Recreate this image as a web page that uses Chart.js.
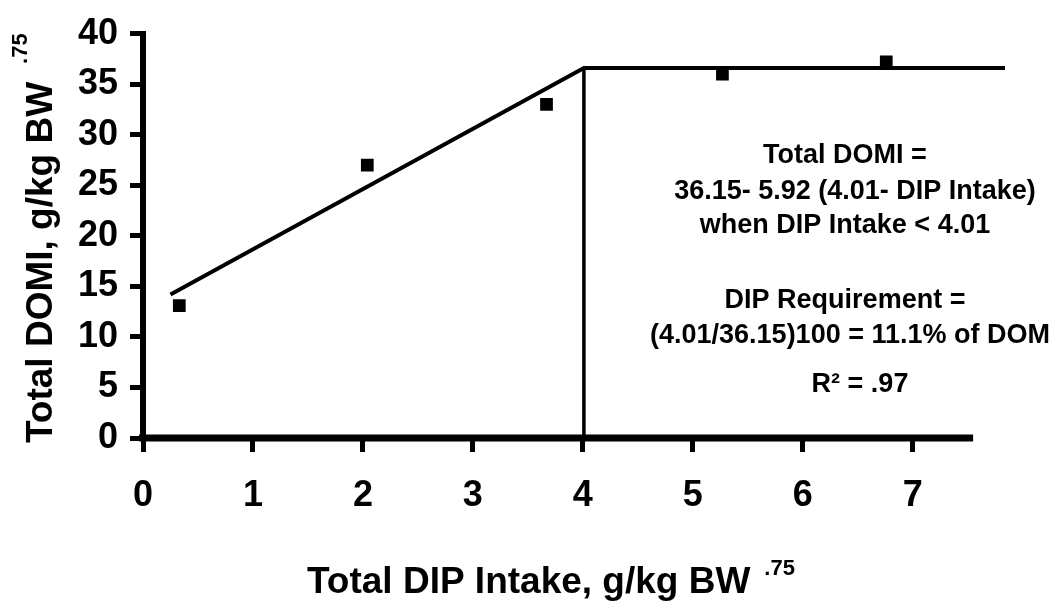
<!DOCTYPE html>
<html>
<head>
<meta charset="utf-8">
<script src="https://cdn.jsdelivr.net/npm/chart.js@4.4.1/dist/chart.umd.min.js"></script>
<style>
  html, body { margin: 0; padding: 0; background: #fff; }
  #wrap { width: 1052px; height: 601px; }
</style>
</head>
<body>
<div id="wrap"><canvas id="domiChart" width="1052" height="601"></canvas></div>
<script>
// observed means
const dipIntake = [0.33, 2.04, 3.67, 5.27, 6.76];
const totalDomi = [13.1, 27.0, 33.0, 36.0, 37.2];

// broken-line fit
const fitX = [0.25, 4.01, 7.84];
const fitY = [14.2, 36.6, 36.6];

// drop line at the break point
const breakX = [4.01, 4.01];
const breakY = [36.6, 0];

const xMax = 7.84;
const xAxisEnd = 7.55;
const yMax = 40;

const xTitle = "Total DIP Intake, g/kg BW";
const yTitle = "Total DOMI, g/kg BW";
const titleSup = ".75";

const noteLines = [
  "Total DOMI =",
  "36.15- 5.92 (4.01- DIP Intake)",
  "when DIP Intake < 4.01",
  "DIP Requirement =",
  "(4.01/36.15)100 = 11.1% of DOM",
  "R\u00B2 = .97"
];

const FONT = '"Liberation Sans", Arial, Helvetica, sans-serif';
const toPoints = (xs, ys) => xs.map((v, i) => ({ x: v, y: ys[i] }));

// ------------------------------------------------------------
// axis line, titles and the equation block
// ------------------------------------------------------------
const extras = {
  id: "extras",
  afterDraw(chart) {
    const { ctx, scales: { x, y } } = chart;
    ctx.save();
    ctx.fillStyle = "#000";
    ctx.strokeStyle = "#000";

    // x axis stops short of the fitted plateau
    ctx.lineWidth = 7;
    ctx.beginPath();
    ctx.moveTo(x.getPixelForValue(0) - 4, y.getPixelForValue(0));
    ctx.lineTo(x.getPixelForValue(xAxisEnd), y.getPixelForValue(0));
    ctx.stroke();

    // x title
    ctx.textBaseline = "alphabetic";
    ctx.textAlign = "left";
    ctx.font = `bold 37px ${FONT}`;
    ctx.fillText(xTitle, 307, 593);
    let w = ctx.measureText(xTitle).width;
    ctx.font = `bold 22px ${FONT}`;
    ctx.fillText(titleSup, 307 + w + 14, 575);

    // y title
    ctx.save();
    ctx.translate(52, 443);
    ctx.rotate(-Math.PI / 2);
    ctx.font = `bold 37px ${FONT}`;
    ctx.fillText(yTitle, 0, 0);
    w = ctx.measureText(yTitle).width;
    ctx.font = `bold 22px ${FONT}`;
    ctx.fillText(titleSup, w + 18, -25);
    ctx.restore();

    // equation block
    ctx.textAlign = "center";
    ctx.font = `bold 27px ${FONT}`;
    const baselines = [163, 199, 233, 308, 343, 392];
    const centers = [845, 855, 845, 845, 850, 860];
    noteLines.forEach((t, i) => ctx.fillText(t, centers[i], baselines[i]));

    ctx.restore();
  }
};

const tickFont = { family: FONT, size: 36, weight: "bold" };

new Chart(document.getElementById("domiChart"), {
  type: "scatter",
  data: {
    datasets: [
      {
        data: toPoints(dipIntake, totalDomi),
        pointStyle: "rect",
        pointRadius: 9,
        backgroundColor: "#000",
        borderColor: "#000",
        borderWidth: 0
      },
      {
        data: toPoints(fitX, fitY),
        showLine: true,
        borderColor: "#000",
        borderWidth: 4,
        pointRadius: 0
      },
      {
        data: toPoints(breakX, breakY),
        showLine: true,
        borderColor: "#000",
        borderWidth: 3.5,
        pointRadius: 0
      }
    ]
  },
  options: {
    responsive: false,
    animation: false,
    events: [],
    layout: { padding: { left: 0, top: 32, right: 47, bottom: 0 } },
    plugins: { legend: { display: false }, tooltip: { enabled: false } },
    scales: {
      x: {
        type: "linear",
        min: 0,
        max: xMax,
        afterFit: s => { s.height = 163; },
        border: { display: false },
        grid: {
          drawOnChartArea: false,
          tickLength: 14,
          tickWidth: 5,
          lineWidth: 5,
          color: "#000",
          tickColor: "#000"
        },
        ticks: {
          stepSize: 1,
          includeBounds: false,
          autoSkip: false,
          maxRotation: 0,
          color: "#000",
          padding: 22,
          font: tickFont
        }
      },
      y: {
        min: 0,
        max: yMax,
        afterFit: s => { s.width = 143; },
        border: { display: true, width: 6, color: "#000" },
        grid: {
          drawOnChartArea: false,
          tickLength: 13,
          tickWidth: 5,
          lineWidth: 5,
          color: "#000",
          tickColor: "#000"
        },
        ticks: {
          stepSize: 5,
          color: "#000",
          padding: 12,
          font: tickFont
        }
      }
    }
  },
  plugins: [extras]
});
</script>
</body>
</html>
